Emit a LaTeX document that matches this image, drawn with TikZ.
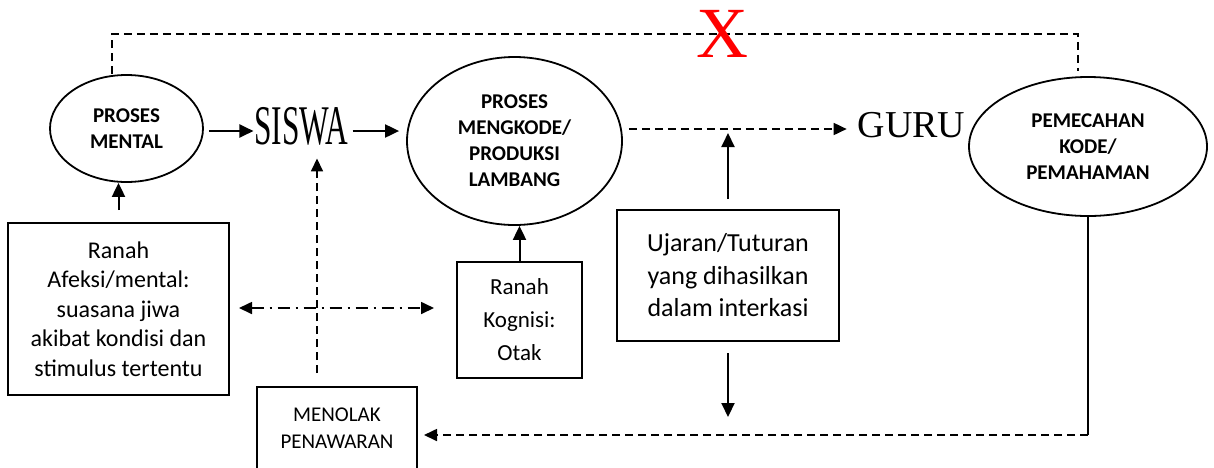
\documentclass[tikz,border=0pt]{standalone}
\usepackage{fontspec}
\setmainfont{Carlito}
\newfontfamily\serifx{Liberation Serif}
\usetikzlibrary{arrows.meta,shapes.geometric}

\begin{document}
\begin{tikzpicture}[x=1pt,y=-1pt,line width=2pt]
		\tikzstyle{every node}+=[inner sep=0pt]
		\tikzstyle{bubble}=[draw,ellipse,line width=1.8pt,align=center,font=\bfseries\fontsize{21}{26}\selectfont]
		\tikzstyle{panel}=[draw,rectangle,align=center]
		\tikzstyle{arr}=[-{Triangle[length=14pt,width=13pt]}]
		\tikzstyle{dasharr}=[line width=1.7pt,dash pattern=on 8pt off 5pt,-{Triangle[length=13pt,width=12pt]}]
		\tikzstyle{dotarr}=[line width=1.7pt,dash pattern=on 12pt off 6pt on 2pt off 6pt,{Triangle[length=13pt,width=12pt]}-{Triangle[length=13pt,width=12pt]}]
		\useasboundingbox (0,0) rectangle (1214,467);
		\node[bubble,minimum width=153pt,minimum height=107pt] (mental) at (126.5,128.5) {PROSES\\MENTAL};
		\node[bubble,minimum width=215pt,minimum height=168pt] (kode) at (514.5,141) {PROSES\\MENGKODE/\\PRODUKSI\\LAMBANG};
		\node[bubble,minimum width=238pt,minimum height=139pt] (paham) at (1088,146.5) {PEMECAHAN\\KODE/\\PEMAHAMAN};
		\node (siswa) at (301.5,126.5) {\serifx\fontsize{56}{56}\selectfont\scalebox{0.56}[1]{SISWA}};
		\node (guru) at (911.5,125.5) {\serifx\fontsize{38}{38}\selectfont GURU};
		\node[panel,minimum width=221pt,minimum height=172pt,font=\fontsize{24}{29.5}\selectfont] (afeksi) at (118.5,309) {Ranah\\Afeksi/mental:\\suasana jiwa\\akibat kondisi dan\\stimulus tertentu};
		\node[panel,minimum width=125pt,minimum height=116pt,font=\fontsize{23}{33}\selectfont] (kognisi) at (519.5,320) {Ranah\\Kognisi:\\Otak};
		\node[panel,minimum width=222pt,minimum height=131pt,font=\fontsize{26}{32.5}\selectfont] (ujaran) at (728,275.5) {Ujaran/Tuturan\\yang dihasilkan\\dalam interkasi};
		\node[panel,minimum width=160pt,minimum height=83pt,font=\fontsize{21}{27}\selectfont] (tolak) at (337,428.5) {MENOLAK\\PENAWARAN};
		\coordinate (garisa) at (0,131);
		\coordinate (garisg) at (0,129);
		\coordinate (garisb) at (0,308);
		\coordinate (atasl) at (112,34);
		\coordinate (atasr) at (1078,34);
		\coordinate (tegak) at (317,373);
		\coordinate (bawah) at (1089,435);
		\coordinate (ujung) at (728,417);
		\draw[line width=1.7pt,dash pattern=on 8pt off 5pt,shorten >=5pt] (atasl |- mental.north) -- (atasl) -- (atasr) -- (atasr |- paham.north);
		\node[text=red] (silang) at (722.5,34) {\serifx\fontsize{72}{72}\selectfont X};
		\draw[arr,shorten <=5pt] (mental.east |- garisa) -- (siswa.west |- garisa);
		\draw[arr,shorten <=3pt,shorten >=7pt] (siswa.east |- garisa) -- (kode.west |- garisa);
		\draw[dasharr,shorten <=6pt,shorten >=10pt] (kode.east |- garisg) -- (guru.west |- garisg);
		\draw[arr,shorten <=12pt] (afeksi.north) -- (afeksi.north |- mental.south);
		\draw[arr] (kognisi.north) -- (kognisi.north |- kode.south);
		\draw[arr,shorten <=10pt,shorten >=4pt] (ujaran.north) -- (ujaran.north |- garisg);
		\draw[arr,shorten <=11pt] (ujaran.south) -- (ujung);
		\draw[dasharr,shorten >=12pt] (tegak) -- (tegak |- siswa.south);
		\draw[dotarr,shorten <=9pt,shorten >=22pt] (afeksi.east |- garisb) -- (kognisi.west |- garisb);
		\draw (paham.south) -- (paham.south |- bawah);
		\draw[dasharr,shorten >=6pt] (paham.south |- bawah) -- (tolak.east |- bawah);
	\end{tikzpicture}
\end{document}
